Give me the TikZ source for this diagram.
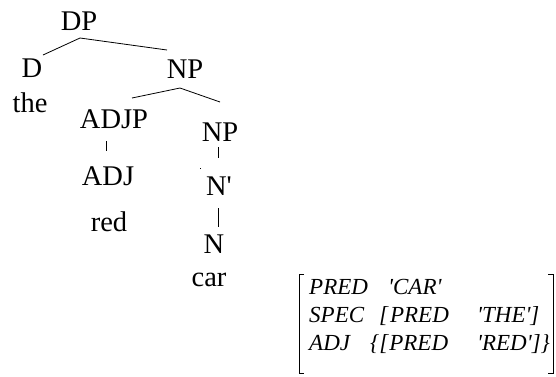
\documentclass[tikz,border=0pt]{standalone}
\usepackage{fontspec}
\setmainfont{Liberation Serif}
\newcommand{\sq}{\textquotesingle}
\begin{document}
\begin{tikzpicture}[x=1pt,y=-1pt,
  lab/.style={anchor=base,inner sep=0pt,font=\fontsize{28.5}{28.5}\selectfont},
  fs/.style={anchor=base west,inner sep=0pt,font=\fontsize{23}{23}\selectfont\itshape},
  edge/.style={line width=0.8pt,black},
  brk/.style={line width=0.8pt,black}]
\useasboundingbox (0,0) rectangle (556,376);
% tree nodes
\node[lab] (DP) at (79,30) {DP};
\node[lab] (D) at (32,77) {D};
\node[lab] (NP) at (185,78) {NP};
\node[lab] (the) at (30,112) {the};
\node[lab] (ADJP) at (114,128) {ADJP};
\node[lab] (NPb) at (220,141) {NP};
\node[lab] (ADJ) at (108,185) {ADJ};
\node[lab] (red) at (109,231) {red};
\node[lab] (Nbar) at (219,195) {N\sq};
\node[lab] (N) at (214,253) {N};
\node[lab] (car) at (209,286) {car};
% junction coordinates
\coordinate (dpj) at (80,38);
\coordinate (dl) at (43,55);
\coordinate (dr) at (167,50);
\coordinate (npj) at (180,88);
\coordinate (nl) at (132,98);
\coordinate (nr) at (220,102);
\draw[edge] (dl) -- (dpj) -- (dr);
\draw[edge] (nl) -- (npj) -- (nr);
\draw[edge] ([shift={(-8,13)}]ADJP.base) -- ++(0,10);
\draw[edge] ([shift={(-2,6)}]NPb.base) -- ++(0,11);
\draw[edge] ([shift={(-1,13)}]Nbar.base) -- ++(0,19);
\fill (199.5,167.5) rectangle (201,169);
% f-structure
\node[fs] (p1) at (309,294) {PRED};
\node[fs] (v1) at (388,294) {\sq CAR\sq};
\node[fs] (p2) at (309,322) {SPEC};
\node[fs] (v2) at (379,322) {[\kern2pt PRED};
\node[fs] (w2) at (477,322) {\sq THE\sq]};
\node[fs] (p3) at (309,350) {ADJ};
\node[fs] (v3) at (370,350) {\{[\kern1pt PRED};
\node[fs] (w3) at (477,350) {\sq RED\sq]\}};
\draw[brk] (304,274) -- (299,274) -- (299,373) -- (304,373);
\draw[brk] (548,274) -- (553,274) -- (553,373) -- (548,373);
\end{tikzpicture}
\end{document}
